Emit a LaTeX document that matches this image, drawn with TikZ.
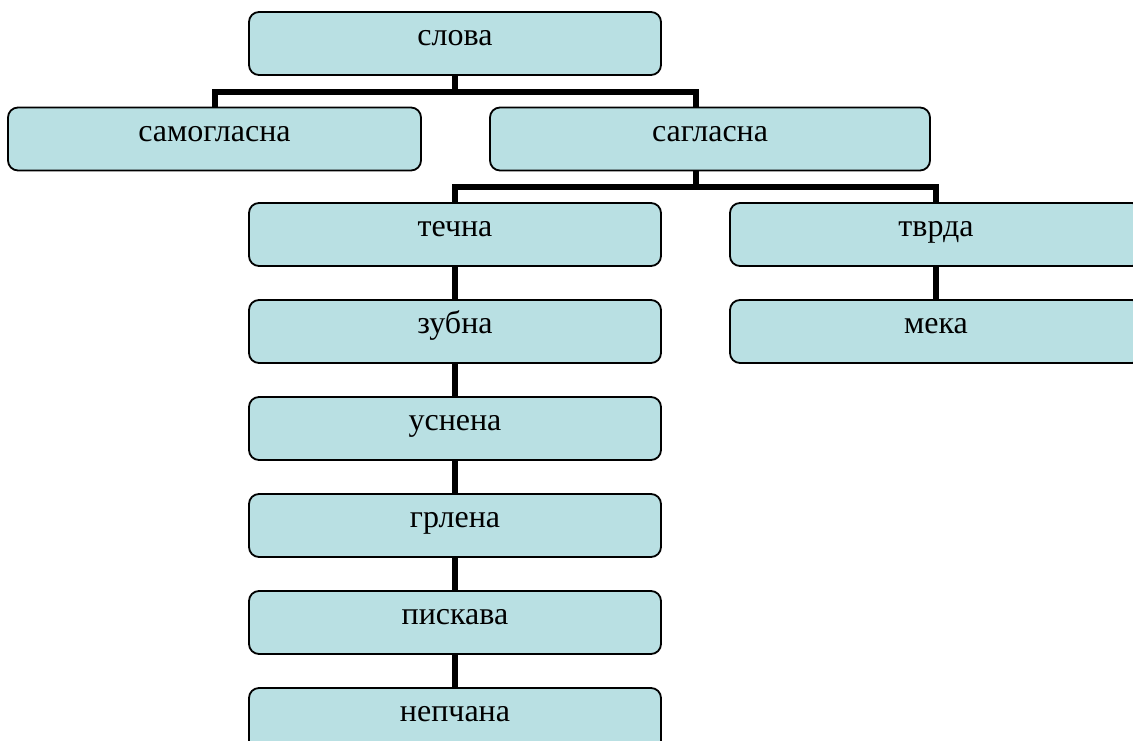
\documentclass[tikz,border=0pt]{standalone}
\usepackage{fontspec}
\setmainfont{Liberation Serif}
\usetikzlibrary{positioning}
\definecolor{boxfill}{HTML}{B9E0E3}

\begin{document}
\begin{tikzpicture}[x=1pt,y=-1pt,
    cbox/.style={draw=black,line width=1.8pt,rounded corners=10pt,fill=boxfill,
      minimum width=412pt,minimum height=63pt,inner sep=0pt,
      font=\fontsize{32}{36}\selectfont,text height=14pt,text depth=10pt},
    link/.style={line width=6pt,line join=miter,draw=black},
    node distance=32.2pt]
    \useasboundingbox (0,0) rectangle (1133,740);
    \clip (0,0) rectangle (1133,740);
    \node[cbox](slova) at (455,43.5){слова};
    \node[cbox,minimum width=413pt](samo) at (214.5,139){самогласна};
    \node[cbox,minimum width=440pt](sagl) at (710,139){сагласна};
    \node[cbox](techna) at (455,234.5){течна};
    \node[cbox](tvrda) at (936,234.5){тврда};
    \node[cbox,below=of tvrda](meka){мека};
    \node[cbox,below=of techna](zubna){зубна};
    \node[cbox,below=of zubna](usnena){уснена};
    \node[cbox,below=of usnena](grlena){грлена};
    \node[cbox,below=of grlena](piskava){пискава};
    \node[cbox,below=of piskava](nepchana){непчана};
    \coordinate(j1) at ([yshift=-16pt]slova.south);
    \coordinate(j2) at ([xshift=-14pt,yshift=-16pt]sagl.south);
    \draw[link](slova.south)--(j1);
    \draw[link](samo.north)|-(j1)-|([xshift=-14pt]sagl.north);
    \draw[link]([xshift=-14pt]sagl.south)--(j2);
    \draw[link](techna.north)|-(j2)-|(tvrda.north);
    \draw[link](techna)--(zubna);\draw[link](zubna)--(usnena);\draw[link](usnena)--(grlena);
    \draw[link](grlena)--(piskava);\draw[link](piskava)--(nepchana);
    \draw[link](tvrda)--(meka);
  \end{tikzpicture}
\end{document}
